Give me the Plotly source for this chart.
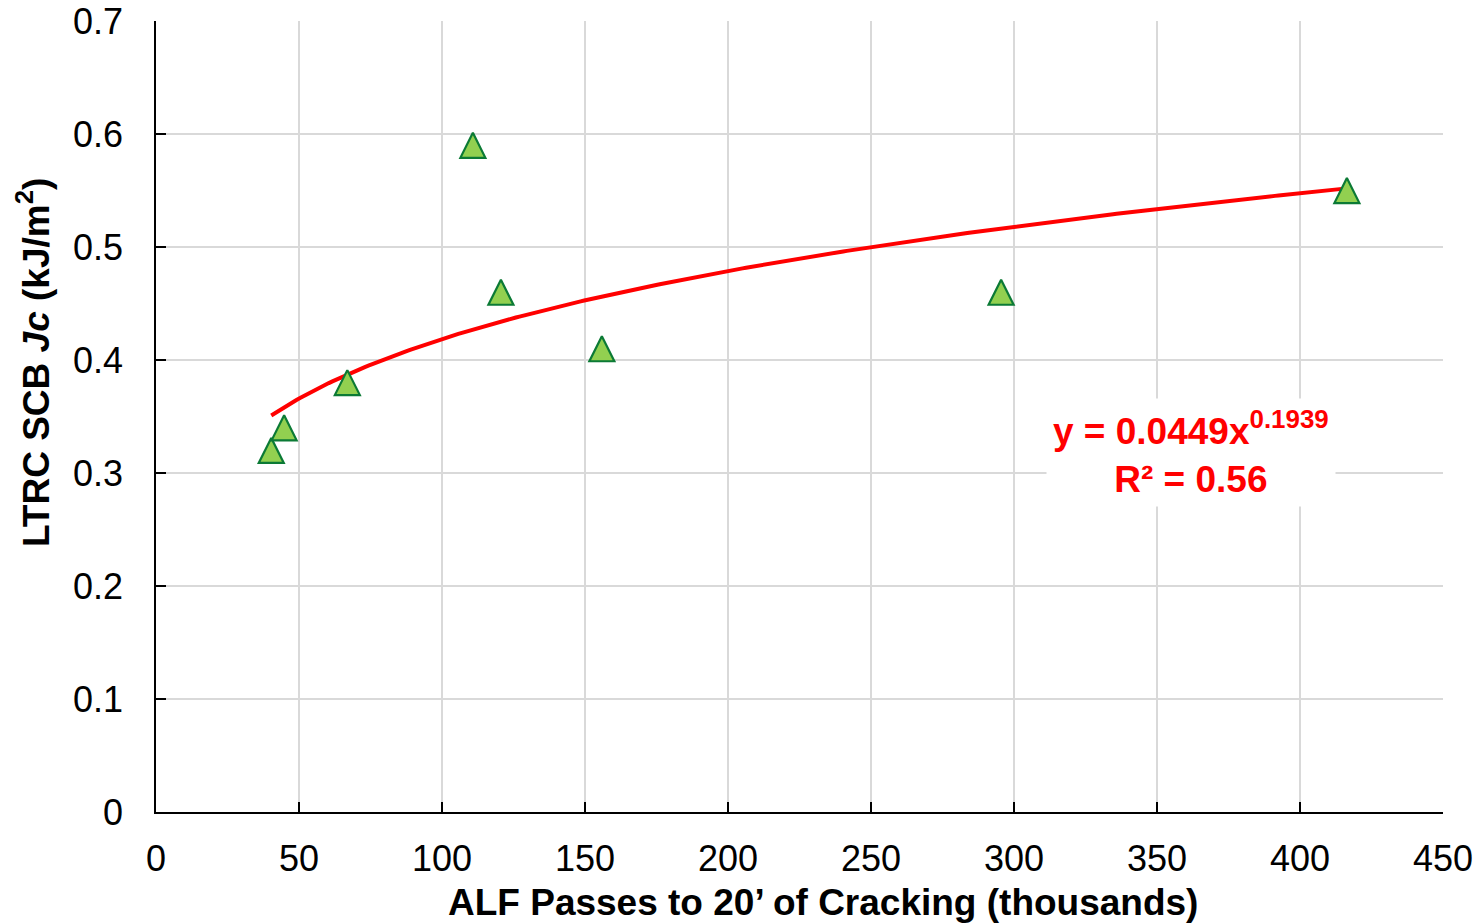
import numpy as np
import plotly.graph_objects as go

# Data
alf_passes_k = [40.3, 44.8, 66.9, 110.8, 120.6, 155.9, 295.5, 416.4]
jc_values = [0.32, 0.34, 0.38, 0.59, 0.46, 0.41, 0.46, 0.55]

# Power trendline reported on the chart: y = 0.0449 x^0.1939 (x in passes)
trend_a = 0.0449
trend_b = 0.1939
trend_r2 = 0.56

x_title = "ALF Passes to 20’ of Cracking (thousands)"
y_title = "LTRC SCB <i>Jc</i> (kJ/m<sup>2</sup>)"

x_fit = np.linspace(min(alf_passes_k), max(alf_passes_k), 300)
y_fit = trend_a * (x_fit * 1000.0) ** trend_b

FONT = "Arial, Liberation Sans, sans-serif"

fig = go.Figure()

fig.add_trace(go.Scatter(
    x=x_fit, y=y_fit, mode="lines",
    line=dict(color="#FF0000", width=4),
    hoverinfo="skip", showlegend=False,
))

fig.add_trace(go.Scatter(
    x=alf_passes_k, y=jc_values, mode="markers",
    marker=dict(symbol="arrow-down", angle=180, standoff=12.5, size=25,
                color="#92D050", line=dict(color="#0B7A35", width=2.2)),
    showlegend=False,
))

fig.add_annotation(
    x=362, y=0.318, xref="x", yref="y",
    text=f"y = {trend_a}x<sup>{trend_b}</sup><br>R² = {trend_r2}",
    showarrow=False, bgcolor="white", borderpad=6,
    font=dict(family=FONT, size=37, color="#FF0000", weight="bold"),
    align="center",
)

# Axis titles
fig.add_annotation(
    x=0.518, y=0, xref="paper", yref="paper", yshift=-90,
    xanchor="center", yanchor="middle",
    text=x_title, showarrow=False,
    font=dict(family=FONT, size=37, color="black", weight="bold"),
)
fig.add_annotation(
    x=0, y=0.5676, xref="paper", yref="paper", xshift=-123,
    xanchor="center", yanchor="middle", textangle=-90,
    text=y_title, showarrow=False,
    font=dict(family=FONT, size=37, color="black", weight="bold"),
)

axis_common = dict(
    showgrid=True, gridcolor="#D9D9D9", gridwidth=1.5,
    showline=True, linecolor="black", linewidth=1.5,
    ticks="inside", ticklen=10, tickcolor="black", tickwidth=1.5,
    zeroline=False, mirror=False, automargin=False,
    tickfont=dict(family=FONT, size=36, color="black"),
)

fig.update_xaxes(
    range=[0, 450.01], tick0=0, dtick=50,
    ticklabelstandoff=14,
    **axis_common,
)
fig.update_yaxes(
    range=[0, 0.70005], tick0=0, dtick=0.1,
    ticklabelstandoff=24,
    **axis_common,
)

fig.update_layout(
    width=1484, height=924,
    margin=dict(l=156, r=41, t=21, b=112),
    paper_bgcolor="white", plot_bgcolor="white",
    font=dict(family=FONT, color="black"),
)

fig.write_html("out.html")
